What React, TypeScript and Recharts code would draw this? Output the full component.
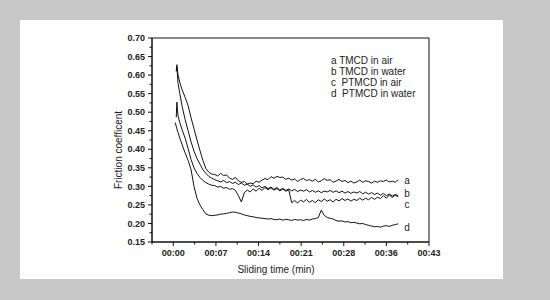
import React from 'react';
import { LineChart, Line, XAxis, YAxis, ReferenceArea } from 'recharts';

// sliding time in minutes
const times = [
  0.3, 0.5, 0.6, 0.8, 1.1, 1.5, 2.0, 2.5, 3.0, 3.5, 4.0, 4.5, 5.0, 5.5, 6.0, 6.5,
  7.0, 7.5, 8.0, 8.5, 9.0, 9.5, 10.0, 10.5, 11.0, 11.5,
  12.0, 12.5, 13.0, 13.5, 14.0, 14.5, 15.0, 15.5, 16.0, 16.5,
  17.0, 17.5, 18.0, 18.5, 19.0, 19.5, 20.0, 20.5, 21.0, 21.5,
  22.0, 22.5, 23.0, 23.5, 24.0, 24.5, 25.0, 25.5, 26.0, 26.5,
  27.0, 27.5, 28.0, 28.5, 29.0, 29.5, 30.0, 30.5, 31.0, 31.5,
  32.0, 32.5, 33.0, 33.5, 34.0, 34.5, 35.0, 35.5, 36.0, 36.5,
  37.0, 37.5, 38.0,
];

// a TMCD in air
const seriesA = [
  null, 0.612, 0.628, 0.600, 0.580, 0.560, 0.540, 0.518, 0.485, 0.455, 0.425, 0.397, 0.370, 0.348, 0.338, 0.333,
  0.332, 0.328, 0.335, 0.329, 0.331, 0.322, 0.319, 0.324, 0.315, 0.311,
  0.313, 0.306, 0.309, 0.307, 0.314, 0.311, 0.317, 0.321, 0.318, 0.326,
  0.322, 0.327, 0.324, 0.325, 0.319, 0.322, 0.317, 0.320, 0.313, 0.319,
  0.321, 0.316, 0.318, 0.314, 0.319, 0.312, 0.315, 0.321, 0.316, 0.318,
  0.311, 0.314, 0.319, 0.313, 0.316, 0.310, 0.314, 0.309, 0.312, 0.317,
  0.311, 0.315, 0.313, 0.309, 0.314, 0.311, 0.315, 0.313, 0.317, 0.312,
  0.314, 0.311, 0.318,
];

// b TMCD in water
const seriesB = [
  null, 0.610, 0.622, 0.578, 0.550, 0.515, 0.480, 0.450, 0.420, 0.395, 0.375, 0.360, 0.345, 0.335, 0.327, 0.322,
  0.318, 0.315, 0.312, 0.316, 0.310, 0.313, 0.308, 0.311, 0.305, 0.309,
  0.303, 0.306, 0.300, 0.304, 0.298, 0.302, 0.296, 0.300, 0.294, 0.298,
  0.292, 0.297, 0.290, 0.295, 0.289, 0.293, 0.288, 0.292, 0.286, 0.290,
  0.287, 0.291, 0.285, 0.289, 0.284, 0.288, 0.283, 0.287, 0.285, 0.289,
  0.284, 0.288, 0.283, 0.287, 0.282, 0.286, 0.281, 0.285, 0.282, 0.286,
  0.280, 0.284, 0.279, 0.283, 0.278, 0.282, 0.276, 0.281, 0.275, 0.279,
  0.274, 0.278, 0.275,
];

// c PTMCD in air
const seriesC = [
  null, 0.486, 0.527, 0.490, 0.472, 0.452, 0.430, 0.402, 0.372, 0.350, 0.335, 0.324, 0.316, 0.310, 0.306, 0.303,
  0.302, 0.298, 0.300, 0.295, 0.297, 0.292, 0.294, 0.289, 0.275, 0.258,
  0.283, 0.290, 0.285, 0.293, 0.287, 0.295, 0.289, 0.297, 0.291, 0.296,
  0.290, 0.294, 0.288, 0.293, 0.287, 0.291, 0.256, 0.262, 0.255, 0.263,
  0.258, 0.265, 0.257, 0.262, 0.256, 0.264, 0.259, 0.266, 0.260, 0.264,
  0.258, 0.265, 0.261, 0.267, 0.262, 0.266, 0.260, 0.265, 0.262, 0.268,
  0.263, 0.268, 0.264, 0.270, 0.265, 0.271, 0.267, 0.275, 0.268, 0.277,
  0.270, 0.276, 0.272,
];

// d PTMCD in water
const seriesD = [
  0.472, 0.462, 0.455, 0.445, 0.430, 0.412, 0.390, 0.370, 0.345, 0.300, 0.268, 0.250, 0.237, 0.226, 0.222, 0.221,
  0.222, 0.223, 0.225, 0.226, 0.227, 0.229, 0.231, 0.230, 0.228, 0.226,
  0.223, 0.221, 0.219, 0.218, 0.216, 0.215, 0.214, 0.213, 0.212, 0.213,
  0.211, 0.210, 0.212, 0.209, 0.211, 0.210, 0.208, 0.211, 0.209, 0.210,
  0.208, 0.211, 0.209, 0.212, 0.213, 0.216, 0.236, 0.222, 0.216, 0.214,
  0.212, 0.208, 0.206, 0.207, 0.204, 0.205, 0.202, 0.203, 0.201, 0.199,
  0.200, 0.197, 0.195, 0.193, 0.191, 0.192, 0.190, 0.193, 0.194, 0.192,
  0.195, 0.197, 0.199,
];

const legendLines = ['a TMCD in air', 'b TMCD in water', 'c  PTMCD in air', 'd  PTMCD in water'];
const endLabels = ['a', 'b', 'c', 'd'];

const xTicks = [-3.6, 0, 3.6, 7.2, 10.8, 14.4, 18, 21.6, 25.2, 28.8, 32.4, 36, 39.6, 43.2];
const yTicks = [
  0.15, 0.175, 0.2, 0.225, 0.25, 0.275, 0.3, 0.325, 0.35, 0.375, 0.4, 0.425,
  0.45, 0.475, 0.5, 0.525, 0.55, 0.575, 0.6, 0.625, 0.65, 0.675, 0.7,
];

const data = times.map((t, i) => ({ t, a: seriesA[i], b: seriesB[i], c: seriesC[i], d: seriesD[i] }));

const FONT = '"Liberation Sans", Arial, sans-serif';

const isMajorX = (v: number) => Math.abs(v / 7.2 - Math.round(v / 7.2)) < 1e-6 && v >= 0;
const fmtTime = (v: number) => '00:' + String(Math.floor(v + 1e-6)).padStart(2, '0');

const XTick = (props: any) => {
  const { x, y, payload } = props;
  const major = isMajorX(payload.value);
  return (
    <g>
      <line x1={x} x2={x} y1={y} y2={y + (major ? 4 : 2.5)} stroke="#111" strokeWidth={1} />
      {major && (
        <text x={x} y={y + 14} textAnchor="middle" fontSize={9} fontWeight="bold" fill="#222" fontFamily={FONT}>
          {fmtTime(payload.value)}
        </text>
      )}
    </g>
  );
};

const YTick = (props: any) => {
  const { x, y, payload, index } = props;
  const major = index % 2 === 0;
  return (
    <g>
      <line x1={x - (major ? 4 : 2.5)} x2={x} y1={y} y2={y} stroke="#111" strokeWidth={1} />
      {major && (
        <text x={x - 7} y={y + 3.2} textAnchor="end" fontSize={9} fontWeight="bold" fill="#222" fontFamily={FONT}>
          {payload.value.toFixed(2)}
        </text>
      )}
    </g>
  );
};

const App = () => {
  const endY = [184, 197, 207.5, 230.5];
  return (
    <div style={{ position: 'fixed', left: 0, top: 0, width: 550, height: 300, background: '#c8c8c8', overflow: 'hidden' }}>
      <div style={{ position: 'absolute', left: 20, top: 20, width: 483, height: 259, background: '#fff' }} />
      <div style={{ position: 'absolute', left: 0, top: 0 }}>
        <LineChart width={550} height={300} data={data} margin={{ top: 38, right: 121, bottom: 28, left: 92 }}>
          <XAxis
            dataKey="t"
            type="number"
            domain={[-3.6, 43.2]}
            ticks={xTicks}
            interval={0}
            tick={<XTick />}
            tickLine={false}
            tickSize={0}
            tickMargin={0}
            height={30}
            axisLine={{ stroke: '#111' }}
          />
          <YAxis
            type="number"
            domain={[0.15, 0.7]}
            ticks={yTicks}
            interval={0}
            tick={<YTick />}
            tickLine={false}
            tickSize={0}
            tickMargin={0}
            width={60}
            axisLine={{ stroke: '#111' }}
          />
          <ReferenceArea x1={-3.6} x2={43.2} y1={0.15} y2={0.7} fill="none" stroke="#111" strokeWidth={1} />
          {['a', 'b', 'c', 'd'].map((k) => (
            <Line
              key={k}
              dataKey={k}
              type="linear"
              stroke="#111"
              strokeWidth={1}
              dot={false}
              activeDot={false}
              connectNulls={false}
              isAnimationActive={false}
            />
          ))}
        </LineChart>
      </div>
      <svg width={550} height={300} style={{ position: 'absolute', left: 0, top: 0, pointerEvents: 'none' }}>
        <g fontFamily={FONT} fill="#222" fontSize={10}>
          {legendLines.map((s, i) => (
            <text key={s} x={331} y={63.5 + i * 11.3} style={{ whiteSpace: 'pre' }}>
              {s}
            </text>
          ))}
          {endLabels.map((s, i) => (
            <text key={s} x={407} y={endY[i]} textAnchor="middle">
              {s}
            </text>
          ))}
          <text x={276} y={272.5} textAnchor="middle">
            Sliding time (min)
          </text>
          <text x={121.5} y={150} textAnchor="middle" transform="rotate(-90 121.5 150)">
            Friction coefficent
          </text>
        </g>
      </svg>
    </div>
  );
};

export default App;
